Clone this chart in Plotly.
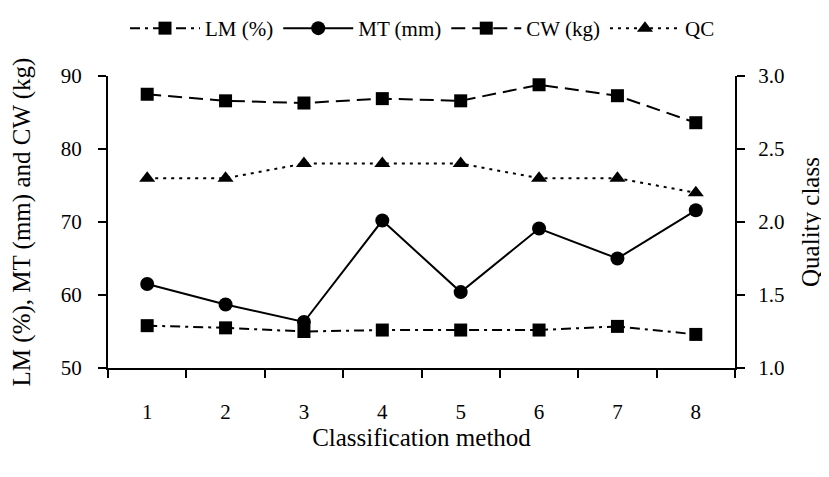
import plotly.graph_objects as go

methods = ["1", "2", "3", "4", "5", "6", "7", "8"]
lm = [55.8, 55.5, 55.0, 55.2, 55.2, 55.2, 55.7, 54.6]
mt = [61.5, 58.7, 56.3, 70.2, 60.4, 69.1, 65.0, 71.6]
cw = [87.5, 86.6, 86.3, 86.9, 86.6, 88.8, 87.3, 83.6]
qc = [2.3, 2.3, 2.4, 2.4, 2.4, 2.3, 2.3, 2.2]

FONT = "Liberation Serif, DejaVu Serif, serif"
fig = go.Figure()
fig.add_trace(go.Scatter(x=methods, y=lm, name="LM (%)", mode="lines+markers",
                         line=dict(color="black", width=2, dash="10px,5px,3px,5px"),
                         marker=dict(symbol="square", size=13, color="black")))
fig.add_trace(go.Scatter(x=methods, y=mt, name="MT (mm)", mode="lines+markers",
                         line=dict(color="black", width=2),
                         marker=dict(symbol="circle", size=14, color="black")))
fig.add_trace(go.Scatter(x=methods, y=cw, name="CW (kg)", mode="lines+markers",
                         line=dict(color="black", width=2, dash="14px,7px"),
                         marker=dict(symbol="square", size=13, color="black")))
fig.add_trace(go.Scatter(x=methods, y=qc, name="QC", mode="lines+markers", yaxis="y2",
                         line=dict(color="black", width=2, dash="3px,5px"),
                         marker=dict(symbol="triangle-up", size=14, color="black")))

axis_common = dict(showline=True, linecolor="black", linewidth=2, ticks="outside",
                   ticklen=8, tickwidth=2, tickcolor="black", showgrid=False, zeroline=False,
                   automargin=False,
                   tickfont=dict(family=FONT, size=21, color="black"))

fig.update_layout(
    width=829, height=477,
    margin=dict(l=100, r=102, t=68, b=117),
    plot_bgcolor="white", paper_bgcolor="white",
    font=dict(family=FONT, size=21, color="black"),
    showlegend=True,
    legend=dict(orientation="h", x=0.5, xanchor="center", xref="container",
                y=1.0, yanchor="top", yref="container",
                font=dict(family=FONT, size=21), itemwidth=70),
    xaxis=dict(type="category", tickson="boundaries", range=[-0.5, 7.5],
               ticklabelstandoff=24,
               title=dict(text="Classification method", standoff=4), **axis_common),
    yaxis=dict(range=[50, 90], dtick=10, ticklabelstandoff=12,
               title=dict(text="LM (%), MT (mm) and CW (kg)", standoff=33), **axis_common),
    yaxis2=dict(range=[1, 3], dtick=0.5, tickformat=".1f", overlaying="y", side="right",
                ticklabelstandoff=9,
                title=dict(text="Quality class", standoff=18), **axis_common),
)

fig.write_html("out.html")
